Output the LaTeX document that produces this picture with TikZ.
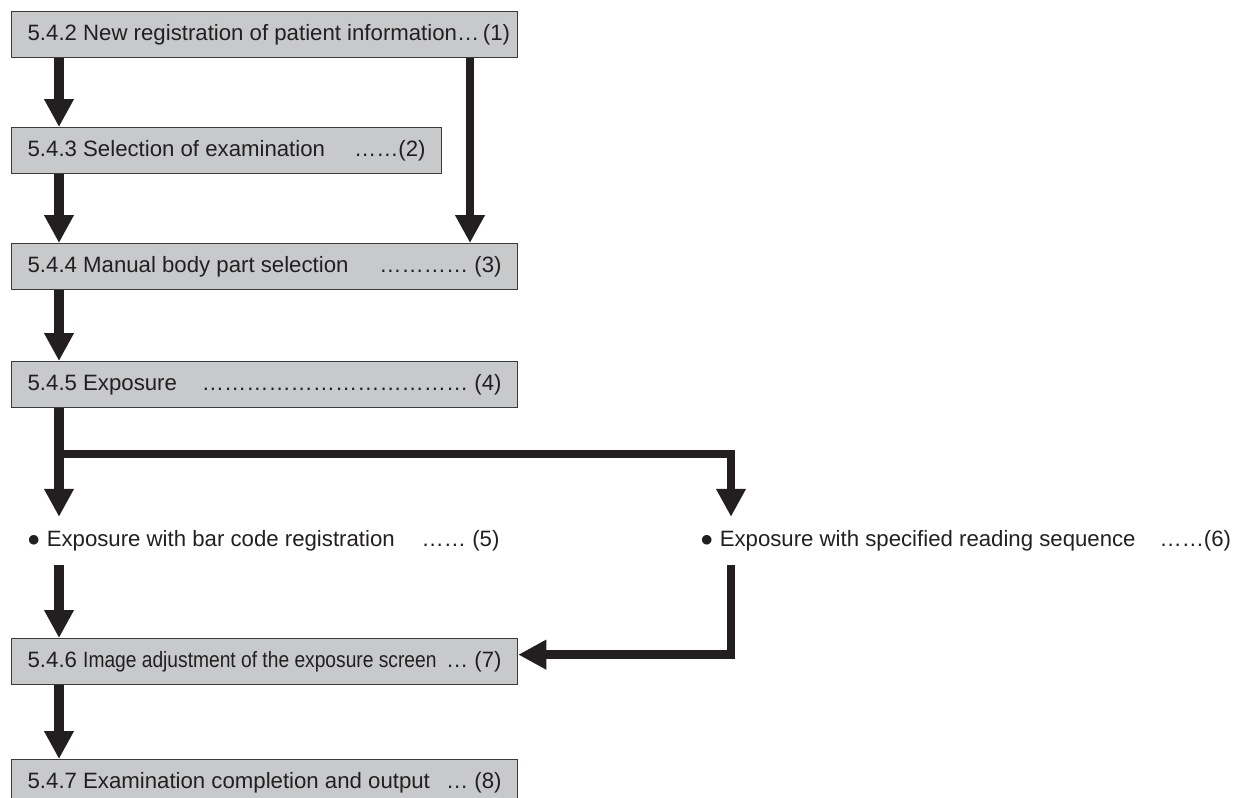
\documentclass[tikz,border=0pt]{standalone}
\usepackage{fontspec}
\usepackage{graphicx}
\setmainfont{Liberation Sans}
\usetikzlibrary{arrows.meta}
\definecolor{boxfill}{HTML}{C8C9CB}
\definecolor{boxline}{HTML}{3A3A3A}
\definecolor{ink}{HTML}{231F20}
\newcommand\rowtext[3]{\makebox[#1][l]{#2\hfill#3}}
\begin{document}
\begin{tikzpicture}[x=1pt,y=-1pt,
  stepbox/.style={draw=boxline, fill=boxfill, line width=1.3pt, anchor=north west,
    minimum height=46pt, inner xsep=16pt, inner ysep=0pt, text=ink,
    font=\fontsize{22.2}{26}\selectfont},
  plainlabel/.style={anchor=west, inner sep=0pt, minimum height=48pt, text=ink,
    font=\fontsize{22.2}{26}\selectfont},
  arr/.style={draw=ink, line width=10pt, -{Triangle[width=28pt,length=28pt]}},
  sidearr/.style={draw=ink, line width=8.5pt, -{Triangle[width=28pt,length=28pt]}},
]
\useasboundingbox (0,0) rectangle (1235,798);
% boxes
\node[stepbox, minimum width=506pt] (b1) at (11,11)
  {\rowtext{474pt}{5.4.2 New registration of patient information}{…\,(1)}};
\node[stepbox, minimum width=430pt] (b2) at (11,127)
  {\rowtext{398pt}{5.4.3 Selection of examination}{……(2)}};
\node[stepbox, minimum width=506pt] (b3) at (11,243)
  {\rowtext{474pt}{5.4.4 Manual body part selection}{………… (3)}};
\node[stepbox, minimum width=506pt] (b4) at (11,361)
  {\rowtext{474pt}{5.4.5 Exposure}{…………{}…………{}………… (4)}};
\node[plainlabel] (t5) at (27,541)
  {● Exposure with bar code registration\hspace{27pt}…… (5)};
\node[plainlabel] (t6) at (700,541)
  {● Exposure with specified reading sequence\hspace{24pt}……(6)};
\node[stepbox, minimum width=506pt] (b7) at (11,638)
  {\rowtext{474pt}{5.4.6 \scalebox{0.865}[1]{Image adjustment of the exposure screen}}{… (7)}};
\node[stepbox, minimum width=506pt] (b8) at (11,759)
  {\rowtext{474pt}{5.4.7 Examination completion and output}{… (8)}};
% connector columns
\coordinate (lx) at (59,0);
\coordinate (rx) at (470,0);
\coordinate (qx) at (731,0);
\coordinate (jn) at (59,454);
% connectors
\draw[arr] (b1.south -| lx) -- (b2.north -| lx);
\draw[sidearr] (b1.south -| rx) -- (b3.north -| rx);
\draw[arr] (b2.south -| lx) -- (b3.north -| lx);
\draw[arr] (b3.south -| lx) -- (b4.north -| lx);
\draw[arr] (b4.south -| lx) -- (t5.north -| lx);
\draw[sidearr] (jn) -| (t6.north -| qx);
\draw[arr] (t5.south -| lx) -- (b7.north -| lx);
\draw[sidearr] (t6.south -| qx) |- ([yshift=7pt]b7.east);
\draw[arr] (b7.south -| lx) -- (b8.north -| lx);
\end{tikzpicture}
\end{document}
